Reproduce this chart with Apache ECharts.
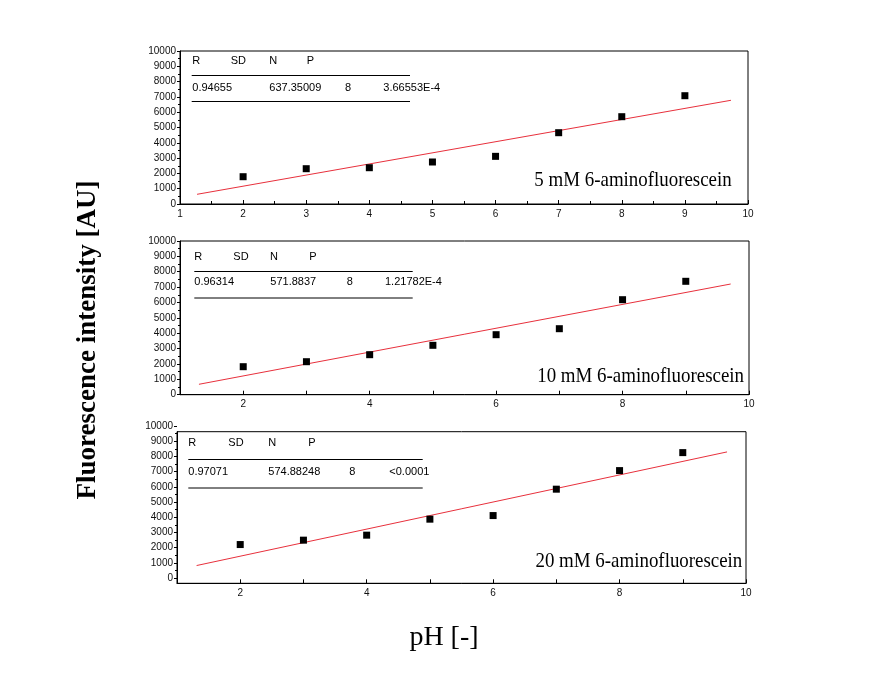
<!DOCTYPE html>
<html>
<head>
<meta charset="utf-8">
<script src="https://cdn.jsdelivr.net/npm/echarts@6/dist/echarts.min.js"></script>
<style>
html,body{margin:0;padding:0;background:#fff;}
#chart{width:872px;height:684px;}
</style>
</head>
<body>
<div id="chart"></div>
<script>
// ---- data ----
const pH = [2, 3, 4, 5, 6, 7, 8, 9];
const intensity5mM  = [1784, 2307, 2372, 2745, 3115, 4660, 5706, 7078];
const intensity10mM = [1822, 2147, 2603, 3214, 3904, 4294, 6181, 7378];
const intensity20mM = [2191, 2480, 2809, 3862, 4099, 5836, 7059, 8243];

// fitted line end points (pH, intensity)
const fitPH5mM  = [1.27, 9.73];
const fit5mM    = [634, 6778];
const fitPH10mM = [1.30, 9.71];
const fit10mM   = [677, 7202];
const fitPH20mM = [1.31, 9.70];
const fit20mM   = [809, 8289];

const statHeaders = ['R', 'SD', 'N', 'P'];
const stats5mM  = ['0.94655', '637.35009', '8', '3.66553E-4'];
const stats10mM = ['0.96314', '571.8837', '8', '1.21782E-4'];
const stats20mM = ['0.97071', '574.88248', '8', '<0.0001'];

const panelLabels = ['5 mM 6-aminofluorescein', '10 mM 6-aminofluorescein', '20 mM 6-aminofluorescein'];
const yTitle = 'Fluorescence intensity [AU]';
const xTitle = 'pH [-]';

const yMin = 0, yMax = 10000, yStep = 1000;
const xMin = 1, xMax = 10;

// ---- chart ----
const chart = echarts.init(document.getElementById('chart'));
const sans = 'Liberation Sans, Arial, sans-serif';
const serif = 'Liberation Serif, Times New Roman, serif';

function pairs(xs, ys) { return xs.map((x, i) => [x, ys[i]]); }

function xAxisBase(gi, every, minor) {
  return {
    type: 'value', gridIndex: gi, min: xMin, max: xMax, interval: 1,
    axisLine: { show: true, onZero: false, lineStyle: { color: '#000', width: 1 } },
    axisTick: { show: true, inside: true, length: 4, lineStyle: { color: '#000' } },
    minorTick: { show: minor, splitNumber: 2, length: 3, lineStyle: { color: '#000' } },
    splitLine: { show: false },
    axisLabel: {
      color: '#111', fontFamily: sans, fontSize: 10, margin: 5,
      formatter: v => (v % every === 0 ? String(v) : '')
    }
  };
}
function yAxisBase(gi, min, max, opts) {
  return Object.assign({
    type: 'value', gridIndex: gi, min: min, max: max, interval: yStep,
    axisLine: { show: true, onZero: false, lineStyle: { color: '#000', width: 1 } },
    axisTick: { show: true, length: 3, lineStyle: { color: '#000' } },
    minorTick: { show: true, splitNumber: 2, length: 2, lineStyle: { color: '#000' } },
    splitLine: { show: false },
    axisLabel: { color: '#111', fontFamily: sans, fontSize: 10, margin: 4, formatter: v => String(v) }
  }, opts || {});
}

const grids = [
  { left: 180, top: 51, width: 568, height: 153, show: true, borderColor: '#000', borderWidth: 1 },
  { left: 180, top: 241, width: 569, height: 153.7, show: true, borderColor: '#000', borderWidth: 1 },
  { left: 177, top: 431.7, width: 569, height: 151.6, show: true, borderColor: '#000', borderWidth: 1 },
  { left: 177, top: 426, width: 569, height: 152, show: false }
];

const xAxes = [
  xAxisBase(0, 1, true),
  xAxisBase(1, 2, false),
  xAxisBase(2, 2, false),
  Object.assign(xAxisBase(3, 2, false), { show: false })
];
const yAxes = [
  yAxisBase(0, yMin, yMax),
  yAxisBase(1, yMin, yMax),
  yAxisBase(2, -360, 9620, {
    axisTick: { show: false }, minorTick: { show: false }, axisLabel: { show: false }
  }),
  yAxisBase(3, yMin, yMax, { axisLine: { show: false } })
];

function scatter(gi, ys) {
  return {
    type: 'scatter', xAxisIndex: gi, yAxisIndex: gi, data: pairs(pH, ys),
    symbol: 'rect', symbolSize: 7, itemStyle: { color: '#000', opacity: 1 }, z: 3, silent: true
  };
}
function fit(gi, xs, ys) {
  return {
    type: 'line', xAxisIndex: gi, yAxisIndex: gi, data: pairs(xs, ys),
    showSymbol: false, symbol: 'none', lineStyle: { color: '#e8303c', width: 1 }, z: 2, silent: true
  };
}

// table / annotation graphics
const graphics = [];
function addTable(stats, hy, vy, l1y, l2y, lx0, lx1, cols) {
  statHeaders.forEach((h, i) => {
    graphics.push({ type: 'text', x: cols[0][i], y: hy, silent: true,
      style: { text: h, font: '11px ' + sans, fill: '#000', textVerticalAlign: 'middle', verticalAlign: 'middle' } });
  });
  stats.forEach((s, i) => {
    graphics.push({ type: 'text', x: cols[1][i], y: vy, silent: true,
      style: { text: s, font: '11px ' + sans, fill: '#000', textVerticalAlign: 'middle', verticalAlign: 'middle' } });
  });
  [l1y, l2y].forEach(y => graphics.push({ type: 'line', silent: true,
    shape: { x1: lx0, y1: y, x2: lx1, y2: y }, style: { stroke: '#000', lineWidth: 1 } }));
}
addTable(stats5mM, 60.7, 88.3, 75.5, 101.5, 191.7, 410,
  [[192.3, 230.7, 269.3, 306.7], [192.3, 269.3, 345, 383.3]]);
addTable(stats10mM, 256.7, 282.3, 271.5, 298, 194.3, 412.7,
  [[194.3, 233.3, 270, 309.3], [194.3, 270.3, 346.7, 385]]);
addTable(stats20mM, 443.3, 472.3, 459.5, 488, 188.3, 422.7,
  [[188.3, 228.3, 268.3, 308.3], [188.3, 268.3, 349.3, 389.3]]);

const labelPos = [[731.7, 180], [744, 376.7], [742.3, 561.7]];
panelLabels.forEach((t, i) => {
  graphics.push({ type: 'text', x: labelPos[i][0], y: labelPos[i][1], scaleX: 0.9, silent: true,
    style: { text: t, font: '21px ' + serif, fill: '#000',
      textAlign: 'right', align: 'right', textVerticalAlign: 'middle', verticalAlign: 'middle' } });
});
graphics.push({ type: 'text', x: 88, y: 340, rotation: Math.PI / 2, silent: true,
  style: { text: yTitle, font: 'bold 27px ' + serif, fill: '#000',
    textAlign: 'center', align: 'center', textVerticalAlign: 'middle', verticalAlign: 'middle' } });
graphics.push({ type: 'text', x: 444, y: 638, silent: true,
  style: { text: xTitle, font: '28px ' + serif, fill: '#000',
    textAlign: 'center', align: 'center', textVerticalAlign: 'middle', verticalAlign: 'middle' } });

chart.setOption({
  animation: false,
  backgroundColor: '#fff',
  grid: grids,
  xAxis: xAxes,
  yAxis: yAxes,
  series: [
    fit(0, fitPH5mM, fit5mM), scatter(0, intensity5mM),
    fit(1, fitPH10mM, fit10mM), scatter(1, intensity10mM),
    fit(2, fitPH20mM, fit20mM), scatter(2, intensity20mM)
  ],
  graphic: graphics
});
</script>
</body>
</html>
